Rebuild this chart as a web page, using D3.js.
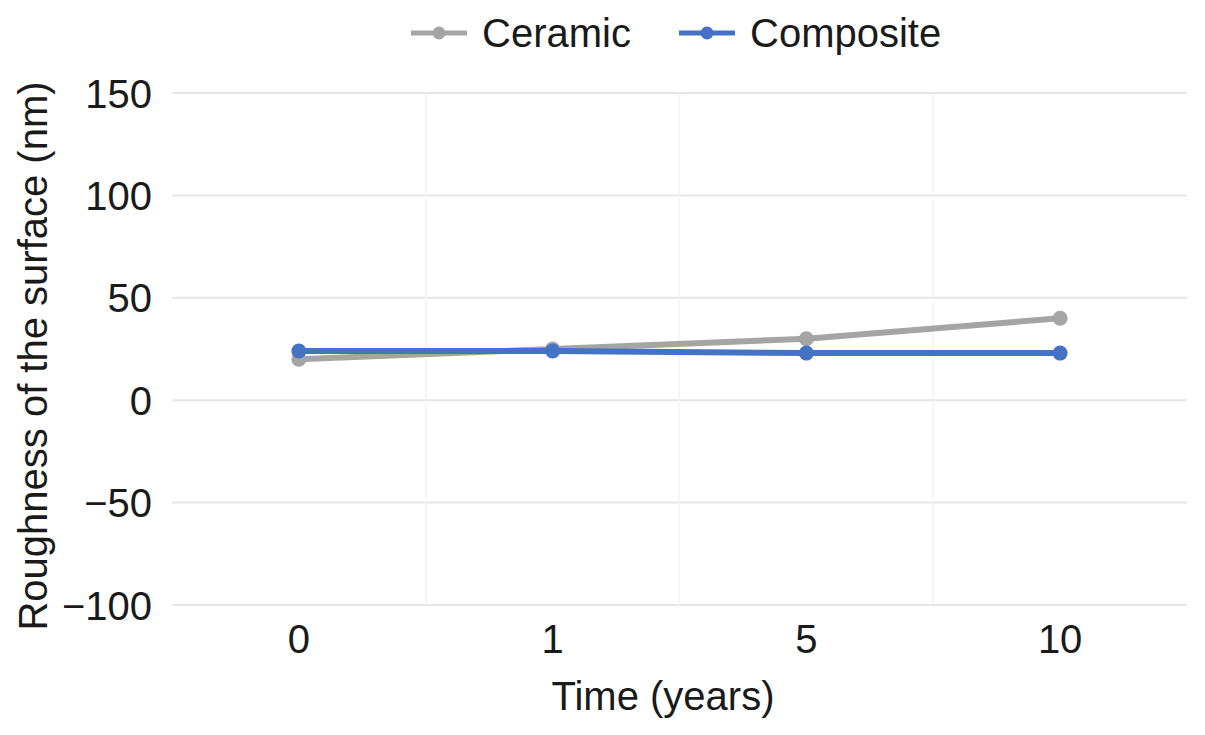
<!DOCTYPE html>
<html><head><meta charset="utf-8">
<script src="https://cdn.jsdelivr.net/npm/d3@7"></script>
<style>body{margin:0;background:#fff;} text{font-family:"Liberation Sans",Arial,sans-serif;fill:#1a1a1a;}</style>
</head><body>
<svg id="c" width="1205" height="735"></svg>
<script>
const categories = ["0","1","5","10"];
const ceramic = [20, 25, 30, 40];
const composite = [24, 24, 23, 23];
const yTicks = [150, 100, 50, 0, -50, -100];
const seriesNames = ["Ceramic", "Composite"];
const colors = ["#a5a5a5", "#4472c4"];

const FS = 40;
const svg = d3.select("#c");
const L = 172, R = 1187, T = 93, B = 605;
const x = d3.scaleBand().domain(categories).range([L, R]);
const y = d3.scaleLinear().domain([-100, 150]).range([B, T]);

// gridlines
svg.append("g").selectAll("line").data(yTicks).join("line")
  .attr("x1", L).attr("x2", R).attr("y1", d => y(d)).attr("y2", d => y(d))
  .attr("stroke", "#e6e6e6").attr("stroke-width", 2);
svg.append("g").selectAll("line").data(categories.slice(1)).join("line")
  .attr("x1", d => x(d)).attr("x2", d => x(d)).attr("y1", T).attr("y2", B)
  .attr("stroke", "#f3f3f3").attr("stroke-width", 1.5);

// y axis
const ya = svg.append("g").attr("transform", `translate(${L},0)`)
  .call(d3.axisLeft(y).tickValues(yTicks).tickSize(0).tickPadding(20).tickFormat(d => d < 0 ? "\u2212" + Math.abs(d) : d));
ya.select(".domain").remove();
ya.selectAll("text").attr("font-size", FS).attr("font-family", "Liberation Sans, Arial, sans-serif").attr("fill", "#1a1a1a").attr("dy", "0.35em");

// x axis
const xa = svg.append("g").attr("transform", `translate(0,${B})`)
  .call(d3.axisBottom(x).tickSize(0).tickPadding(20));
xa.select(".domain").remove();
xa.selectAll("text").attr("font-size", FS).attr("font-family", "Liberation Sans, Arial, sans-serif").attr("fill", "#1a1a1a").attr("dy", "0.71em");

// titles
svg.append("text").attr("x", 663).attr("y", 710).attr("text-anchor", "middle")
  .attr("font-size", FS).text("Time (years)");
svg.append("text").attr("transform", `translate(47,${(T + B) / 2 + 7}) rotate(-90)`).attr("text-anchor", "middle")
  .attr("font-size", FS).text("Roughness of the surface (nm)");

// series
const data = [ceramic, composite];
const line = d3.line().x((d, i) => x(categories[i]) + x.bandwidth() / 2).y(d => y(d));
data.forEach((s, k) => {
  const g = svg.append("g");
  g.append("path").attr("d", line(s)).attr("fill", "none").attr("stroke", colors[k]).attr("stroke-width", 6).attr("stroke-linejoin", "round");
  g.selectAll("circle").data(s).join("circle")
    .attr("cx", (d, i) => x(categories[i]) + x.bandwidth() / 2).attr("cy", d => y(d)).attr("r", 7.5).attr("fill", colors[k]);
});

// legend
const legX = [411, 679];
seriesNames.forEach((n, k) => {
  const g = svg.append("g").attr("transform", `translate(${legX[k]},33)`);
  g.append("line").attr("x1", 0).attr("x2", 56).attr("stroke", colors[k]).attr("stroke-width", 5);
  g.append("circle").attr("cx", 28).attr("r", 6.5).attr("fill", colors[k]);
  g.append("text").attr("x", 71).attr("y", 0).attr("dy", "0.35em").attr("font-size", FS).text(n);
});
</script>
</body></html>
